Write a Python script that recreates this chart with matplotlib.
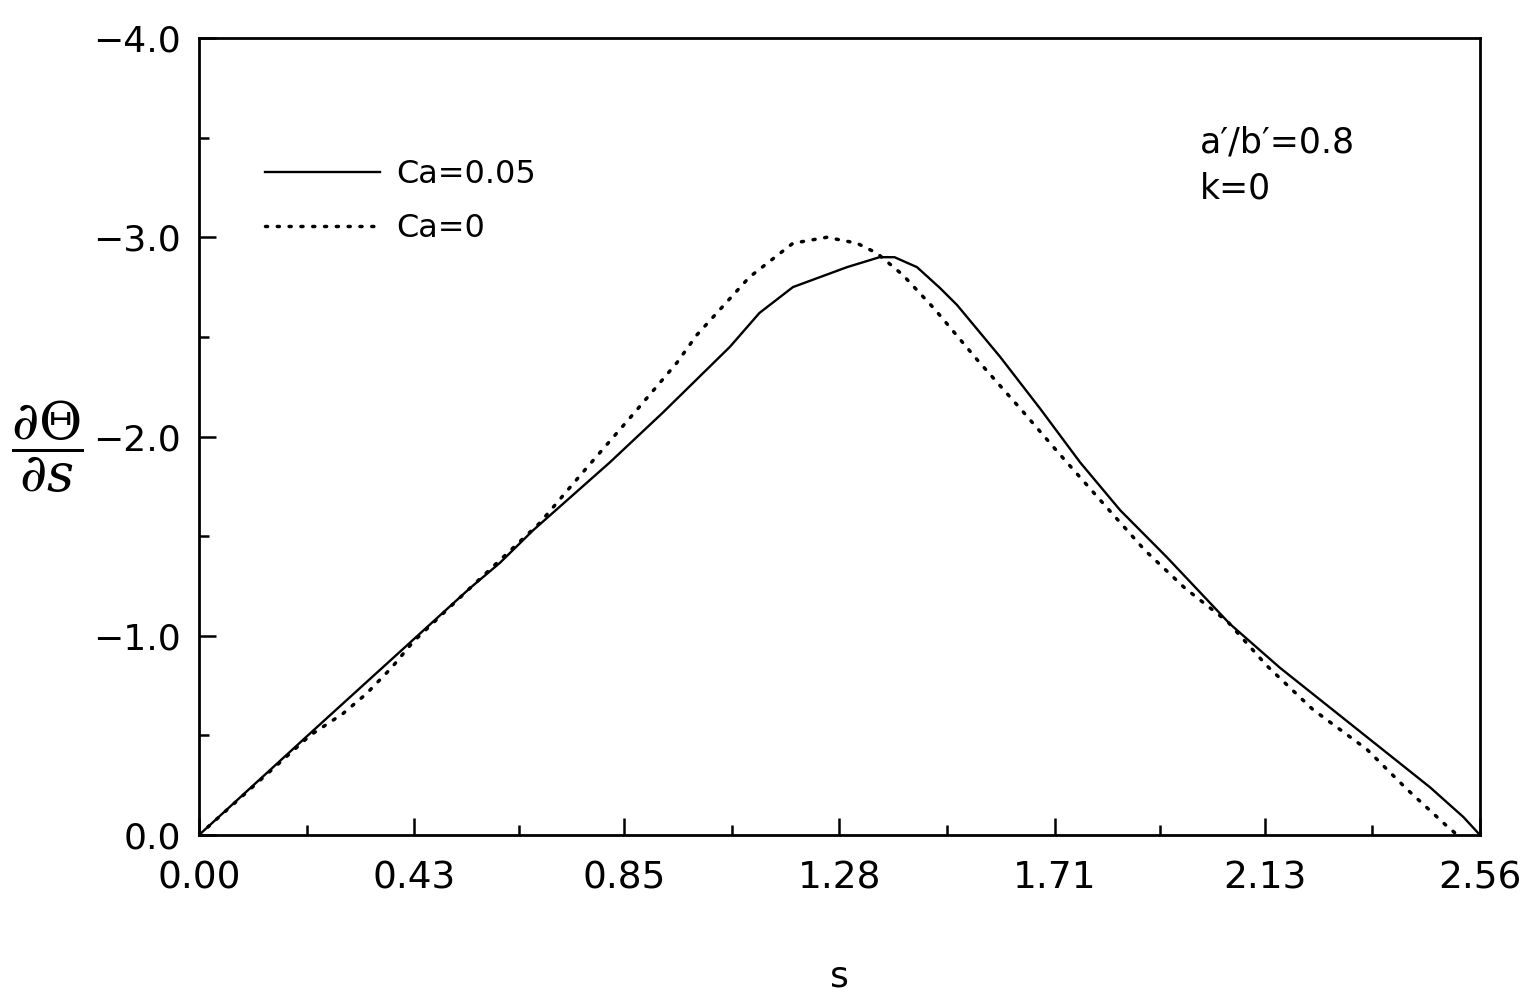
import matplotlib
matplotlib.use('Agg')
import matplotlib.pyplot as plt

# Ca=0.05 (solid)
s_ca005 = [0, 0.222, 0.428, 0.542, 0.601, 0.668, 0.821, 0.927, 1.061, 1.12, 1.187,
           1.295, 1.36, 1.39, 1.435, 1.481, 1.515, 1.601, 1.681, 1.761, 1.841, 1.934,
           2.060, 2.160, 2.260, 2.360, 2.460, 2.527, 2.56]
d_ca005 = [0, -0.51, -0.98, -1.24, -1.365, -1.53, -1.87, -2.12, -2.45, -2.62, -2.75,
           -2.85, -2.90, -2.90, -2.85, -2.745, -2.66, -2.40, -2.14, -1.87, -1.63, -1.395,
           -1.06, -0.84, -0.64, -0.44, -0.24, -0.09, 0.0]

# Ca=0 (dotted)
s_ca0 = [0, 0.222, 0.288, 0.335, 0.385, 0.428, 0.542, 0.681, 0.767, 0.867, 0.955,
         0.995, 1.10, 1.187, 1.255, 1.315, 1.355, 1.407, 1.47, 1.557, 1.645, 1.717,
         1.805, 1.890, 1.970, 2.056, 2.134, 2.226, 2.334, 2.414, 2.496, 2.515]
d_ca0 = [0, -0.50, -0.61, -0.71, -0.84, -0.97, -1.24, -1.566, -1.82, -2.11, -2.37,
         -2.51, -2.80, -2.97, -3.00, -2.97, -2.92, -2.81, -2.64, -2.38, -2.13, -1.92,
         -1.67, -1.43, -1.24, -1.07, -0.85, -0.63, -0.43, -0.23, -0.04, 0.0]

x_ticks = [0.00, 0.43, 0.85, 1.28, 1.71, 2.13, 2.56]
x_labels = ['0.00', '0.43', '0.85', '1.28', '1.71', '2.13', '2.56']
y_ticks = [0.0, -1.0, -2.0, -3.0, -4.0]

plt.rcParams['mathtext.fontset'] = 'dejavuserif'

fig = plt.figure(figsize=(15.33, 9.93), dpi=100)
ax = fig.add_axes([0.1298, 0.1591, 0.8356, 0.8026])

ax.plot(s_ca005, d_ca005, color='black', lw=1.7, label='Ca=0.05')
ax.plot(s_ca0, d_ca0, color='black', lw=2.5, linestyle=(0, (0.6, 2.8)),
        dash_capstyle='round', label='Ca=0')

ax.set_xlim(0, 2.56)
ax.set_ylim(0, -4.0)
ax.set_xticks(x_ticks)
ax.set_xticklabels(x_labels)
ax.set_xticks([0.215, 0.64, 1.065, 1.495, 1.92, 2.345], minor=True)
ax.set_yticks(y_ticks)
ax.set_yticklabels(['0.0', '\u22121.0', '\u22122.0', '\u22123.0', '\u22124.0'])
ax.set_yticks([-0.5, -1.5, -2.5, -3.5], minor=True)

ax.tick_params(which='both', direction='in', width=1.8, top=False, right=False)
ax.tick_params(axis='x', which='major', length=12, pad=18, labelsize=27)
ax.tick_params(axis='x', which='minor', length=7)
ax.tick_params(axis='y', which='major', length=12, pad=13, labelsize=26)
ax.tick_params(axis='y', which='minor', length=7)
for sp in ax.spines.values():
    sp.set_linewidth(2.0)

ax.set_xlabel('s', fontsize=26, labelpad=46)
fig.text(47 / 1533, 1 - 447 / 993, r'$\dfrac{\partial\Theta}{\partial s}$',
         fontsize=38, ha='center', va='center')

ax.legend(loc='upper left', bbox_to_anchor=(0.0515, 0.848), frameon=False,
          fontsize=23, handlelength=3.6, handletextpad=0.5, labelspacing=0.72,
          borderpad=0, borderaxespad=0)

ax.text(0.781, 0.857, 'a\u2032/b\u2032=0.8', transform=ax.transAxes, fontsize=25)
ax.text(0.781, 0.799, 'k=0', transform=ax.transAxes, fontsize=25)

fig.savefig('out.png', dpi=100)
